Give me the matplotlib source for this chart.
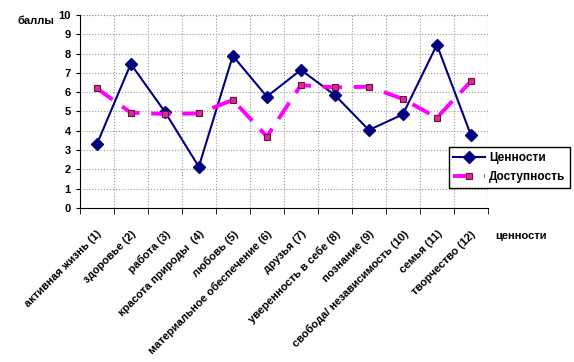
import matplotlib.pyplot as plt
import matplotlib.transforms as mtransforms
import numpy as np

plt.rcParams['font.family'] = ['Liberation Sans', 'DejaVu Sans']

categories = ['активная жизнь (1)', 'здоровье (2)', 'работа (3)', 'красота природы  (4)',
              'любовь (5)', 'материальное обеспечение (6)', 'друзья (7)',
              'уверенность в себе (8)', 'познание (9)', 'свобода/ независимость (10)',
              'семья (11)', 'творчество (12)']
values = [3.3, 7.46, 4.99, 2.14, 7.88, 5.77, 7.15, 5.85, 4.04, 4.85, 8.45, 3.78]
access = [6.2, 4.94, 4.87, 4.9, 5.6, 3.7, 6.36, 6.25, 6.28, 5.65, 4.68, 6.56]

fig = plt.figure(figsize=(5.74, 3.62), dpi=100)
ax = fig.add_axes([0.139, 0.425, 0.711, 0.534])

x = np.arange(len(categories))
ax.plot(x, values, color='#000080', lw=1.5, marker='D', ms=6,
        mfc='#000080', mec='#000080', label='Ценности')
ax.plot(x, access, color='#ff00ff', lw=2.8, dashes=(5, 3), marker='s', ms=5,
        mfc='#cc3399', mec='#800040', mew=0.8, label='Доступность')

ax.set_xlim(-0.5, len(categories) - 0.5)
ax.set_ylim(0, 10)
ax.set_yticks(range(0, 11))
ax.set_xticks(x)
ax.set_xticks(np.arange(-0.5, len(categories)), minor=True)
ax.set_xticklabels(categories, rotation=45, ha='right', rotation_mode='anchor',
                   fontsize=8, fontweight='bold')
shift = mtransforms.ScaledTranslation(-4 / 100, 0, fig.dpi_scale_trans)
for lab in ax.get_xticklabels():
    lab.set_transform(lab.get_transform() + shift)
ax.tick_params(axis='x', which='major', length=0, pad=15)
ax.tick_params(axis='x', which='minor', length=4, direction='out')
ax.tick_params(axis='y', length=3, labelsize=8)
for lab in ax.get_yticklabels():
    lab.set_fontweight('bold')

ax.grid(True, axis='y', ls=':', color='#999999', lw=0.8)
ax.grid(True, axis='x', which='minor', ls=':', color='#999999', lw=0.8)
for s in ['top', 'right']:
    ax.spines[s].set_visible(False)
ax.axvline(len(categories) - 0.5, ls=':', color='#999999', lw=0.8)
ax.axhline(10, ls=':', color='#999999', lw=0.8)

fig.text(0.031, 0.935, 'баллы', fontsize=8, fontweight='bold')
fig.text(0.862, 0.34, 'ценности', fontsize=8, fontweight='bold')

leg = ax.legend(loc='upper left', bbox_to_anchor=(0.904, 0.316), fontsize=8.5,
                frameon=True, fancybox=False, edgecolor='black', framealpha=1,
                handlelength=2.7, handletextpad=0.3, borderpad=0.4,
                labelspacing=0.6, borderaxespad=0)
leg.get_frame().set_linewidth(1)
for t in leg.get_texts():
    t.set_fontweight('bold')

fig.savefig('out.png', dpi=100)
